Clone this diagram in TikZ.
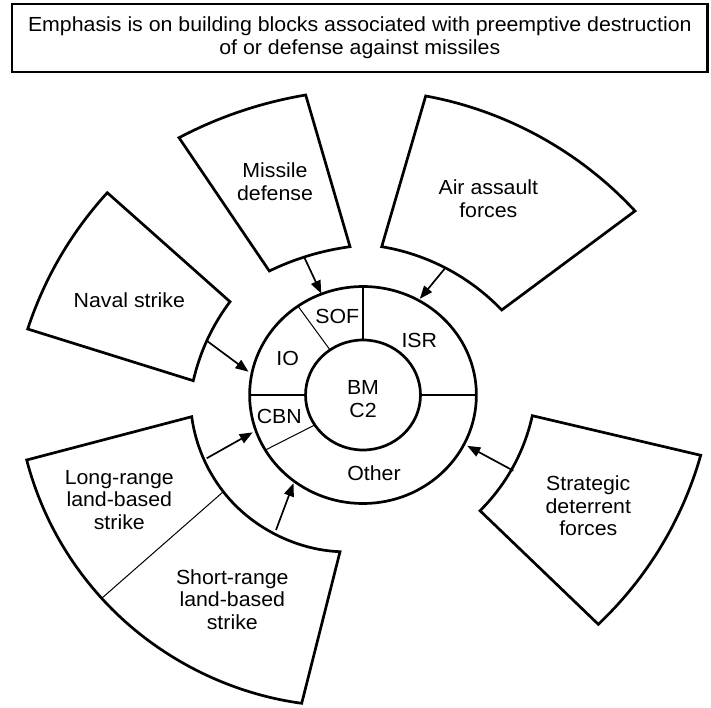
\documentclass[tikz,border=0pt]{standalone}
\usepackage{fontspec}
\setmainfont{Liberation Sans}[FakeStretch=1.045]
\usetikzlibrary{arrows.meta}

\tikzset{
  block/.style={draw, line width=2.7pt, line join=miter},
  rim/.style={looseness=0.87},
  ring/.style={line width=2.7pt},
  split/.style={line width=1.3pt},
  fine split/.style={line width=1pt},
  feed/.style={line width=1.7pt, -{Triangle[length=13pt, width=10pt]}},
  lbl/.style={align=center, inner sep=0pt, font=\fontsize{20.4}{22.7}\selectfont}
}

\begin{document}
\begin{tikzpicture}[x=1pt, y=1pt]
  \useasboundingbox (0,0) rectangle (711,707);
  % Heading box
  \node[draw, line width=2.8pt, minimum width=695.5pt, minimum height=68pt, lbl] (head) at (359.8,669)
    {Emphasis is on building blocks associated with preemptive destruction\\of or defense against missiles};
  % Core ring (BM C2 in the middle)
  \begin{scope}[shift={(363,312)}, xscale=1.045]
    \draw[ring] (0,0) circle (108.5);
    \draw[ring] (0,0) circle (55);
    \foreach \a in {0,90,180} {
      \draw[split] (\a:55) -- (\a:108.5);
    }
    \draw[fine split] (125:55) -- (125:108.5);
    \draw[fine split] (213:55) -- (210.5:108.5);
    % arrow ends on the rim
    \coordinate (rim-md) at (111.5:109);
    \coordinate (rim-ns) at (168:112);
    \coordinate (rim-aa) at (60.5:110.5);
    \coordinate (rim-sd) at (-27:112);
    \coordinate (rim-lr) at (199.5:112);
    \coordinate (rim-sr) at (233:110.5);
  \end{scope}
  % Ring labels
  \node[lbl] (sof) at (337.3,390.3) {SOF};
  \node[lbl] (isr) at (419.3,366.3) {ISR};
  \node[lbl] (io) at (287.7,348.7) {IO};
  \node[lbl] (cbn) at (279.3,290.3) {CBN};
  \node[lbl] (other) at (374,233.7) {Other};
  \node[lbl] (bmc) at (363,308) {BM\\C2};
  % Missile defense
  \draw[block] (179,569.3) to[bend left=9, rim] (305.7,612) -- (350,460.3)
    to[bend right=9, rim] (269.3,436) -- cycle;
  \node[lbl] (md) at (275,525) {Missile\\defense};
  \coordinate (md-in) at (304,450.3);
  % Naval strike
  \draw[block] (27.7,378) to[bend left=12, rim] (107.3,514.3) -- (230,405.3)
    to[bend right=12, rim] (193.3,326.3) -- cycle;
  \node[lbl] (ns) at (129.3,406.3) {Naval strike};
  \coordinate (ns-in) at (206.7,366.3);
  % Air assault forces
  \draw[block] (425.7,611) to[bend left=18.5, rim] (635,496) -- (501.7,397)
    to[bend right=18.5, rim] (381.7,460.3) -- cycle;
  \node[lbl] (aa) at (488.3,508) {Air assault\\forces};
  \coordinate (aa-in) at (445,438.7);
  % Strategic deterrent forces
  \draw[block] (700.7,251.7) to[bend left=15.3, rim] (598.3,82.7) -- (480,196.3)
    to[bend right=16.5, rim] (532.3,291.3) -- cycle;
  \node[lbl] (sd) at (588.3,201) {Strategic\\deterrent\\forces};
  \coordinate (sd-in) at (513.3,236.3);
  % Long-range and short-range land-based strike
  \draw[block] (301.7,3.7) to[bend left=20, rim] (101.7,108.7)
    to[bend left=13.8, rim] (26.7,247) -- (191.7,290.3)
    to[bend right=15, rim] (223.3,215.3) to[bend right=25, rim] (340,155.3) -- cycle;
  \draw[fine split] (223.3,215.3) -- (101.7,108.7);
  \node[lbl] (lr) at (119.3,207) {Long-range\\land-based\\strike};
  \node[lbl] (sr) at (232.3,107.5) {Short-range\\land-based\\strike};
  \coordinate (lr-in) at (206.7,248.7);
  \coordinate (sr-in) at (276,177);
  % Feeds into the ring
  \draw[feed] (md-in) -- (rim-md);
  \draw[feed] (ns-in) -- (rim-ns);
  \draw[feed] (aa-in) -- (rim-aa);
  \draw[feed] (sd-in) -- (rim-sd);
  \draw[feed] (lr-in) -- (rim-lr);
  \draw[feed] (sr-in) -- (rim-sr);
\end{tikzpicture}
\end{document}
